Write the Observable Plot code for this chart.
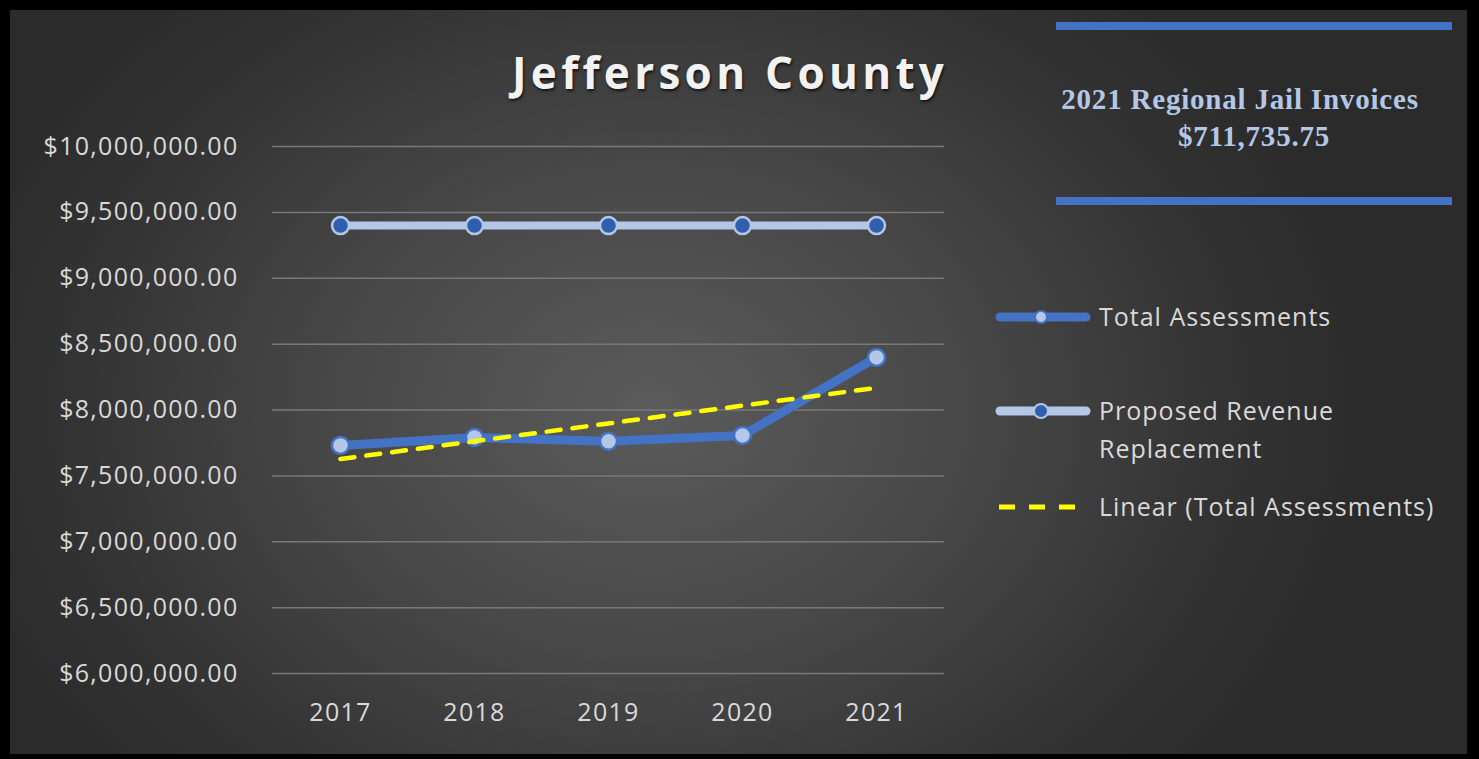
<!DOCTYPE html>
<html>
<head>
<meta charset="utf-8">
<script src="https://cdn.jsdelivr.net/npm/d3@7"></script>
<script src="https://cdn.jsdelivr.net/npm/@observablehq/plot@0.6"></script>
<style>
  html, body { margin: 0; padding: 0; background: #000; }
  #frame { position: relative; width: 1479px; height: 759px; background: #000; overflow: hidden; }
  #panel { position: absolute; left: 10px; top: 10px; width: 1457px; height: 744px;
    background: radial-gradient(ellipse 720px 560px at 640px 400px, #5b5b5b 0%, #474747 45%, #333333 80%, #2b2b2b 100%); }
  #chart { position: absolute; left: 0; top: 0; }
  #title { position: absolute; left: 512px; top: 42px; white-space: nowrap;
    font-family: "Open Sans", sans-serif; font-weight: 700; font-size: 44px; letter-spacing: 4.3px;
    color: #f2f2f2; text-shadow: 1px 2px 3px rgba(0,0,0,0.7); }
  .bar { position: absolute; left: 1056px; width: 396px; height: 8px; background: #4472c4; }
  .box { position: absolute; width: 500px; text-align: center; white-space: nowrap;
    font-family: "Liberation Serif", serif; font-weight: 700; font-size: 29px; letter-spacing: 0.8px; line-height: 36px; color: #b4c7e7; }
  .leg { position: absolute; font-family: "Open Sans", sans-serif; font-size: 25px; letter-spacing: 1px; color: #d9d9d9; line-height: 38px; white-space: nowrap; }
  .sw { position: absolute; }
</style>
</head>
<body>
<div id="frame">
  <div id="panel"></div>
  <div id="chart"></div>
  <div id="title">Jefferson County</div>
  <div class="bar" style="top:22px"></div>
  <div class="bar" style="top:197px"></div>
  <div class="box" style="left:990px;top:81px">2021 Regional Jail Invoices</div>
  <div class="box" style="left:1004px;top:118px">$711,735.75</div>
  <svg class="sw" style="left:995px;top:300px" width="100" height="230">
    <line x1="5" y1="17" x2="91" y2="17" stroke="#4472c4" stroke-width="9" stroke-linecap="round"/>
    <circle cx="46" cy="17" r="6" fill="#b4c7e7" stroke="#4472c4" stroke-width="2"/>
    <line x1="5" y1="111" x2="91" y2="111" stroke="#b4c7e7" stroke-width="9" stroke-linecap="round"/>
    <circle cx="46" cy="111" r="7" fill="#2f5fae" stroke="#b4c7e7" stroke-width="2"/>
    <line x1="4" y1="207" x2="92" y2="207" stroke="#ffff00" stroke-width="5" stroke-dasharray="16 14"/>
  </svg>
  <div class="leg" style="left:1099px;top:297px">Total Assessments</div>
  <div class="leg" style="left:1099px;top:391px">Proposed Revenue<br>Replacement</div>
  <div class="leg" style="left:1099px;top:487px">Linear (Total Assessments)</div>
</div>
<script>
const years = ["2017", "2018", "2019", "2020", "2021"];
const totalAssessments = [7731000, 7792000, 7762000, 7807000, 8399000];
const proposedRevenue = [9400000, 9400000, 9400000, 9400000, 9400000];
const yTicks = [6000000, 6500000, 7000000, 7500000, 8000000, 8500000, 9000000, 9500000, 10000000];

const total = years.map((y, i) => ({year: y, value: totalAssessments[i]}));
const proposed = years.map((y, i) => ({year: y, value: proposedRevenue[i]}));

const fmt = d3.format("$,.2f");

const chart = Plot.plot({
  width: 1479,
  height: 759,
  marginLeft: 272,
  marginRight: 535,
  marginTop: 146,
  marginBottom: 86,
  style: {background: "transparent", fontFamily: "Open Sans, sans-serif", fontSize: "25px", color: "#d9d9d9", overflow: "visible", letterSpacing: "1.3px"},
  x: {type: "point", domain: years, padding: 0.5, label: null},
  y: {domain: [6000000, 10000000], label: null},
  marks: [
    Plot.gridY(yTicks, {stroke: "#787878", strokeOpacity: 1, strokeWidth: 1.5}),
    Plot.axisY({ticks: yTicks, tickFormat: fmt, tickSize: 0, tickPadding: 34, label: null, fill: "#d9d9d9", fontSize: 25}),
    Plot.axisX({tickSize: 0, tickPadding: 30, label: null, fill: "#d9d9d9", fontSize: 25}),
    Plot.line(proposed, {x: "year", y: "value", stroke: "#b4c7e7", strokeWidth: 8, strokeLinecap: "round"}),
    Plot.dot(proposed, {x: "year", y: "value", r: 8.5, fill: "#2f5fae", stroke: "#b4c7e7", strokeWidth: 2.5}),
    Plot.line(total, {x: "year", y: "value", stroke: "#4472c4", strokeWidth: 9, strokeLinecap: "round", strokeLinejoin: "round"}),
    Plot.dot(total, {x: "year", y: "value", r: 8.5, fill: "#b4c7e7", stroke: "#4472c4", strokeWidth: 2.5}),
    Plot.linearRegressionY(total, {x: "year", y: "value", stroke: "#ffff00", strokeWidth: 4.5, strokeDasharray: "14 12", ci: 0})
  ]
});
document.getElementById("chart").appendChild(chart);
</script>
</body>
</html>
